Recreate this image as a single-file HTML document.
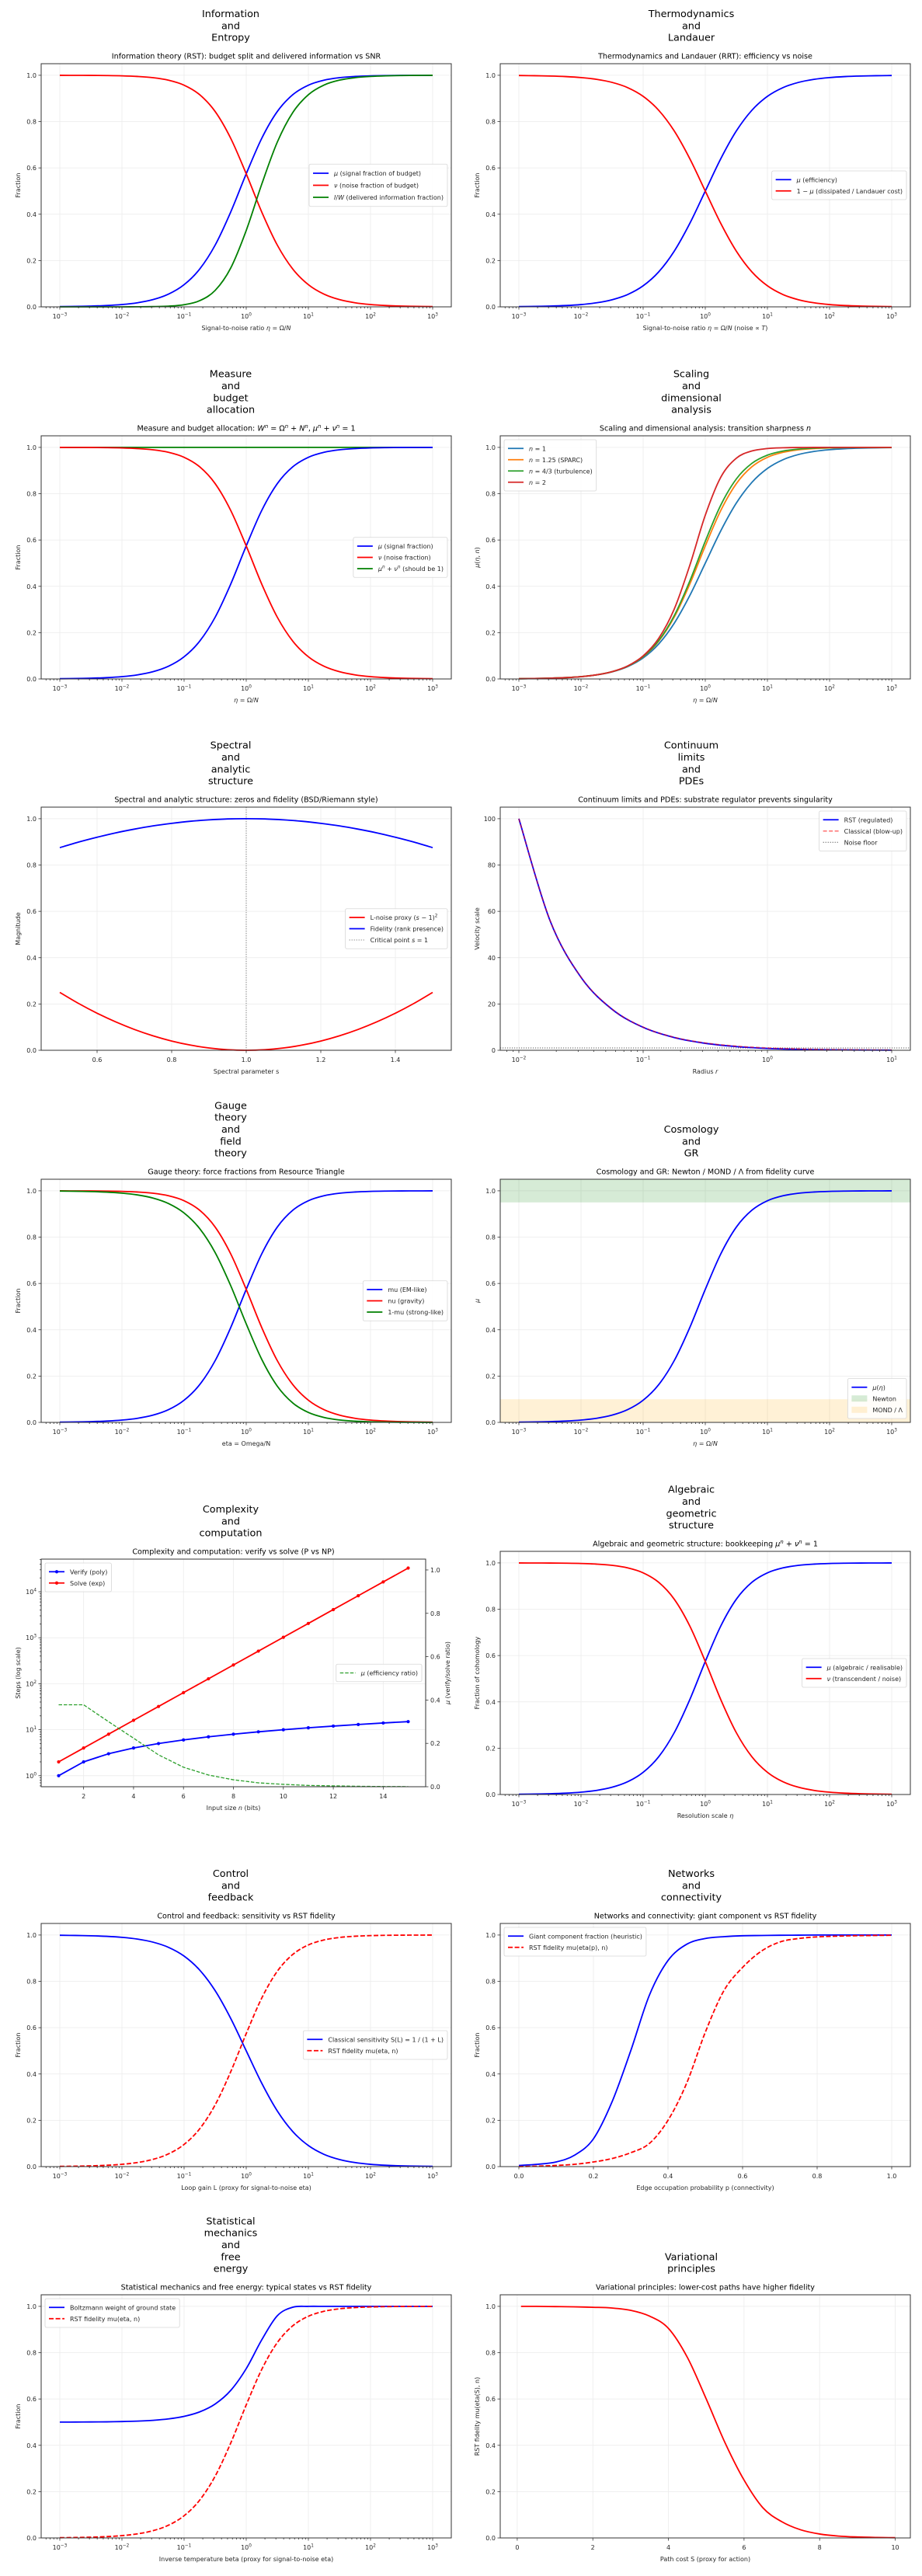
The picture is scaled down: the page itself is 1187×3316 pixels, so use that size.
<!DOCTYPE html>
<html><head><meta charset="utf-8">
<style>
html,body{margin:0;padding:0;background:#fff;}
svg{display:block;font-family:"DejaVu Sans","Liberation Sans",sans-serif;}
</style></head>
<body>
<svg id="fig" xmlns="http://www.w3.org/2000/svg" width="1187" height="3316" viewBox="0 0 1187 3316">
<rect x="0" y="0" width="1187" height="3316" fill="#fff"/>
</svg>
<script>
// ---------- data ----------
const etaExp = [-3,-2.75,-2.5,-2.25,-2,-1.75,-1.5,-1.25,-1,-0.75,-0.5,-0.25,0,0.25,0.5,0.75,1,1.25,1.5,1.75,2,2.25,2.5,2.75,3];
const muN1 = [0.0010,0.0018,0.0032,0.0056,0.0099,0.0175,0.0307,0.0532,0.0909,0.1510,0.2403,0.3599,0.5000,0.6401,0.7597,0.8490,0.9091,0.9468,0.9693,0.9825,0.9901,0.9944,0.9968,0.9982,0.9990];
const oneMinusMuN1 = [0.9990,0.9982,0.9968,0.9944,0.9901,0.9825,0.9693,0.9468,0.9091,0.8490,0.7597,0.6401,0.5000,0.3599,0.2403,0.1510,0.0909,0.0532,0.0307,0.0175,0.0099,0.0056,0.0032,0.0018,0.0010];
const muN125 = [0.0010,0.0018,0.0032,0.0056,0.0100,0.0177,0.0313,0.0550,0.0957,0.1629,0.2667,0.4094,0.5744,0.7280,0.8435,0.9163,0.9572,0.9786,0.9895,0.9948,0.9975,0.9988,0.9994,0.9997,0.9999];
const nuN125 = [0.9999,0.9997,0.9994,0.9988,0.9975,0.9948,0.9895,0.9786,0.9572,0.9163,0.8435,0.7280,0.5744,0.4094,0.2667,0.1629,0.0957,0.0550,0.0313,0.0177,0.0100,0.0056,0.0032,0.0018,0.0010];
const oneMinusMuN125 = [0.9990,0.9982,0.9968,0.9944,0.9900,0.9823,0.9687,0.9450,0.9043,0.8371,0.7333,0.5906,0.4256,0.2720,0.1565,0.0837,0.0428,0.0214,0.0105,0.0052,0.0025,0.0012,0.0006,0.0003,0.0001];
const muN43 = [0.0010,0.0018,0.0032,0.0056,0.0100,0.0177,0.0314,0.0553,0.0967,0.1656,0.2732,0.4225,0.5946,0.7513,0.8639,0.9310,0.9665,0.9842,0.9926,0.9965,0.9984,0.9993,0.9997,0.9998,0.9999];
const muN2 = [0.0010,0.0018,0.0032,0.0056,0.0100,0.0178,0.0316,0.0561,0.0995,0.1751,0.3015,0.4902,0.7071,0.8716,0.9535,0.9846,0.9950,0.9984,0.9995,0.9998,1,1,1,1,1];
const infoIW = [0,0,0,0,0.0001,0.0003,0.0010,0.0030,0.0092,0.0265,0.0711,0.1676,0.3299,0.5300,0.7114,0.8396,0.9162,0.9577,0.9790,0.9896,0.9950,0.9976,0.9988,0.9994,0.9998];
const budgetSum = [1,1,1,1,1,1,1,1,1,1,1,1,1,1,1,1,1,1,1,1,1,1,1,1,1];
const boltzmann = [0.5003,0.5004,0.5008,0.5014,0.5025,0.5044,0.5079,0.5141,0.5250,0.5443,0.5784,0.6370,0.7311,0.8555,0.9595,0.9964,1,1,1,1,1,1,1,1,1];
const spectralS = [0.5,0.55,0.6,0.65,0.7,0.75,0.8,0.85,0.9,0.95,1.0,1.05,1.1,1.15,1.2,1.25,1.3,1.35,1.4,1.45,1.5];
const lNoise = [0.25,0.2025,0.16,0.1225,0.09,0.0625,0.04,0.0225,0.01,0.0025,0,0.0025,0.01,0.0225,0.04,0.0625,0.09,0.1225,0.16,0.2025,0.25];
const fidelity = [0.875,0.899,0.92,0.939,0.955,0.969,0.98,0.989,0.995,0.999,1,0.999,0.995,0.989,0.98,0.969,0.955,0.939,0.92,0.899,0.875];
const radiusExp = [-2,-1.75,-1.5,-1.25,-1,-0.75,-0.5,-0.25,0,0.25,0.5,0.75,1];
const velocityRST = [100,56.1,31.5,17.7,9.9,5.5,3.0,1.6,0.8,0.4,0.2,0.1,0.05];
const velocityClassical = [100,56.2,31.6,17.8,10,5.62,3.16,1.78,1.0,0.56,0.32,0.18,0.10];
const noiseFloor = [1,1];
const noiseFloorX = [-2.15,1.15];
const bitsN = [1,2,3,4,5,6,7,8,9,10,11,12,13,14,15];
const verifySteps = [1,2,3,4,5,6,7,8,9,10,11,12,13,14,15];
const solveSteps = [2,4,8,16,32,64,128,256,512,1024,2048,4096,8192,16384,32768];
const efficiencyRatio = [0.378,0.378,0.30,0.224,0.147,0.09,0.054,0.032,0.018,0.011,0.006,0.004,0.002,0.001,0.0005];
const edgeP = [0,0.05,0.1,0.15,0.2,0.25,0.3,0.35,0.4,0.45,0.5,0.55,0.6,0.65,0.7,0.75,0.8,0.85,0.9,0.95,1.0];
const giantFraction = [0.005,0.01,0.02,0.05,0.12,0.28,0.5,0.74,0.89,0.96,0.985,0.993,0.997,0.998,0.999,0.9995,1,1,1,1,1];
const rstNetwork = [0.0,0.002,0.005,0.01,0.02,0.035,0.06,0.1,0.2,0.36,0.58,0.76,0.86,0.93,0.97,0.985,0.992,0.995,0.997,0.998,0.999];
const pathCost = [0.1,0.5,1,1.5,2,2.5,3,3.5,4,4.5,5,5.5,6,6.5,7,7.5,8,8.5,9,9.5,10];
const pathFidelity = [1.0,1.0,0.999,0.998,0.996,0.993,0.983,0.958,0.905,0.78,0.60,0.41,0.25,0.13,0.07,0.035,0.017,0.008,0.004,0.002,0.001];
const unitTicks = [0,0.2,0.4,0.6,0.8,1.0];
const unitTickLabels = ['0.0','0.2','0.4','0.6','0.8','1.0'];
const decadeTicks = [-3,-2,-1,0,1,2,3];
const decadeLabels = ['10^{\u22123}','10^{\u22122}','10^{\u22121}','10^{0}','10^{1}','10^{2}','10^{3}'];

// ---------- helpers ----------
const NS='http://www.w3.org/2000/svg';
const svg=document.getElementById('fig');
function mk(tag,parent){const e=document.createElementNS(NS,tag);parent.appendChild(e);return e;}
function rich(t,str){
  const toks=str.split(/(\*[^*]+\*|\^\{[^}]*\})/);
  let up=false;
  toks.forEach(tk=>{
    if(!tk) return;
    const ts=document.createElementNS(NS,'tspan');
    if(tk.startsWith('^{')){
      let c=tk.slice(2,-1);
      if(c.includes('*')){c=c.replace(/\*/g,'');ts.setAttribute('font-style','italic');}
      ts.textContent=c;ts.setAttribute('dy','-3.5');ts.setAttribute('font-size','0.72em');up=true;
    } else {
      if(tk.length>2&&tk[0]==='*'&&tk[tk.length-1]==='*'){tk=tk.slice(1,-1);ts.setAttribute('font-style','italic');}
      ts.textContent=tk;
      if(up){ts.setAttribute('dy','3.5');up=false;}
    }
    t.appendChild(ts);
  });
}
function text(parent,x,y,str,opt){
  const t=mk('text',parent);
  t.setAttribute('x',x);t.setAttribute('y',y);
  t.setAttribute('font-size',opt.fs||8);
  t.setAttribute('fill',opt.fill||'#262626');
  t.setAttribute('text-anchor',opt.anchor||'middle');
  if(opt.rot) t.setAttribute('transform',`rotate(${opt.rot} ${x} ${y})`);
  rich(t,str);
  return t;
}
function smooth(pts){
  let d=`M${pts[0][0].toFixed(2)},${pts[0][1].toFixed(2)}`;
  for(let i=0;i<pts.length-1;i++){
    const p0=pts[i-1]||pts[i],p1=pts[i],p2=pts[i+1],p3=pts[i+2]||pts[i+1];
    const c1=[p1[0]+(p2[0]-p0[0])/6,p1[1]+(p2[1]-p0[1])/6];
    const c2=[p2[0]-(p3[0]-p1[0])/6,p2[1]-(p3[1]-p1[1])/6];
    d+=`C${c1[0].toFixed(2)},${c1[1].toFixed(2)} ${c2[0].toFixed(2)},${c2[1].toFixed(2)} ${p2[0].toFixed(2)},${p2[1].toFixed(2)}`;
  }
  return d;
}
function straight(pts){return 'M'+pts.map(p=>p[0].toFixed(2)+','+p[1].toFixed(2)).join('L');}

const ROWS=[82,561,1039,1518,1997,2476,2954];
const LX=53, RX=644, AW=528, AH=313;

function panel(o){
  const g=mk('g',svg);
  
  
  const x0=o.x0,y0=o.y0,w=o.w||AW,h=o.h||AH;
  const sx=v=>x0+(v-o.xlim[0])/(o.xlim[1]-o.xlim[0])*w;
  const tyv=v=>o.ylog?Math.log10(v):v;
  const sy=v=>y0+h-(tyv(v)-o.ylim[0])/(o.ylim[1]-o.ylim[0])*h;
  const sy2=o.y2lim?(v=>y0+h-(v-o.y2lim[0])/(o.y2lim[1]-o.y2lim[0])*h):null;
  const gl=o.group;
  gl.forEach((ln,i)=>{
    const t=text(g,o.gcx,y0-34-(gl.length-1-i)*15.3+4.6,ln,{fs:12.8,fill:'#000'});
    
    
  });
  const tt=text(g,x0+w/2,y0-6.5,o.title,{fs:9.6,fill:'#000'});
  
  
  const grid=mk('g',g);
  
  
  o.xticks.forEach(v=>{const l=mk('line',grid);l.setAttribute('x1',sx(v));l.setAttribute('x2',sx(v));l.setAttribute('y1',y0);l.setAttribute('y2',y0+h);l.setAttribute('stroke','#ebebeb');l.setAttribute('stroke-width','0.8');});
  o.yticks.forEach(v=>{const yy=y0+h-(v-o.ylim[0])/(o.ylim[1]-o.ylim[0])*h;const l=mk('line',grid);l.setAttribute('x1',x0);l.setAttribute('x2',x0+w);l.setAttribute('y1',yy);l.setAttribute('y2',yy);l.setAttribute('stroke','#ebebeb');l.setAttribute('stroke-width','0.8');});
  (o.bands||[]).forEach(b=>{
    const r=mk('rect',g);
    
    
    r.setAttribute('x',x0);r.setAttribute('width',w);
    r.setAttribute('y',sy(b.y1));r.setAttribute('height',sy(b.y0)-sy(b.y1));
    r.setAttribute('fill',b.color);
  });
  o.series.forEach(s=>{
    const yf=s.axis==='right'?sy2:sy;
    let pts;
    if(s.vline!==undefined) pts=[[sx(s.vline),y0],[sx(s.vline),y0+h]];
    else pts=s.x.map((xv,i)=>[sx(xv),yf(s.y[i])]);
    const p=mk('path',g);
    
    
    p.setAttribute('d',s.straight?straight(pts):smooth(pts));
    p.setAttribute('fill','none');p.setAttribute('stroke',s.color);
    p.setAttribute('stroke-width',s.lw||1.8);
    p.setAttribute('stroke-linejoin','round');
    if(s.dash) p.setAttribute('stroke-dasharray',s.dash);
    if(s.opacity) p.setAttribute('stroke-opacity',s.opacity);
    if(s.marker){pts.forEach(pt=>{const c=mk('circle',g);c.setAttribute('cx',pt[0]);c.setAttribute('cy',pt[1]);c.setAttribute('r',2.1);c.setAttribute('fill',s.color);});}
  });
  const sp=mk('rect',g);
  
  
  sp.setAttribute('x',x0);sp.setAttribute('y',y0);sp.setAttribute('width',w);sp.setAttribute('height',h);
  sp.setAttribute('fill','none');sp.setAttribute('stroke','#333');sp.setAttribute('stroke-width','1');
  const tk=mk('g',g);
  
  
  const tl=(x1,y1,x2,y2)=>{const l=mk('line',tk);l.setAttribute('x1',x1);l.setAttribute('y1',y1);l.setAttribute('x2',x2);l.setAttribute('y2',y2);l.setAttribute('stroke','#333');l.setAttribute('stroke-width','0.8');};
  o.xticks.forEach((v,i)=>{const X=sx(v);tl(X,y0+h,X,y0+h+3.5);
    const t=text(tk,X,y0+h+15,o.xlabels[i],{fs:8});});
  if(o.xlog){for(let d=Math.floor(o.xlim[0]);d<o.xlim[1];d++){for(let k=2;k<10;k++){const v=d+Math.log10(k);if(v>o.xlim[0]&&v<o.xlim[1]){const X=sx(v);tl(X,y0+h,X,y0+h+2);}}}}
  o.yticks.forEach((v,i)=>{const Y=y0+h-(v-o.ylim[0])/(o.ylim[1]-o.ylim[0])*h;tl(x0-3.5,Y,x0,Y);
    const t=text(tk,x0-6,Y+3,o.ylabels[i],{fs:8,anchor:'end'});});
  if(o.ylog){for(let d=Math.floor(o.ylim[0]);d<o.ylim[1];d++){for(let k=2;k<10;k++){const v=d+Math.log10(k);if(v>o.ylim[0]&&v<o.ylim[1]){const Y=y0+h-(v-o.ylim[0])/(o.ylim[1]-o.ylim[0])*h;tl(x0-2,Y,x0,Y);}}}}
  if(o.y2ticks){o.y2ticks.forEach((v,i)=>{const Y=sy2(v);tl(x0+w,Y,x0+w+3.5,Y);
    const t=text(tk,x0+w+6,Y+3,o.y2labels[i],{fs:8,anchor:'start'});});}
  const xl=text(g,x0+w/2,y0+h+30,o.xlabel,{fs:8});
  
  
  const yl=text(g,x0-27,y0+h/2,o.ylabel,{fs:8,rot:-90});
  
  
  if(o.y2label){const y2=text(g,x0+w+31,y0+h/2,o.y2label,{fs:8,rot:-90});
    
    }
  (o.legends||[]).forEach(lg=>{
    const G=mk('g',g);
    
    
    const rowH=lg.rowH||14.5;
    const box=mk('rect',G);
    let maxW=0;
    lg.items.forEach((it,i)=>{
      const cy=4+rowH/2+i*rowH;
      const ent=mk('g',G);
      
      
      if(it.patch){const r=mk('rect',ent);r.setAttribute('x',5);r.setAttribute('y',cy-4);r.setAttribute('width',20);r.setAttribute('height',8);r.setAttribute('fill',it.color);r.setAttribute('stroke',it.edge||'none');r.setAttribute('stroke-width','0.5');}
      else{const l=mk('line',ent);l.setAttribute('x1',5);l.setAttribute('x2',25);l.setAttribute('y1',cy);l.setAttribute('y2',cy);l.setAttribute('stroke',it.color);l.setAttribute('stroke-width',it.lw||1.8);if(it.dash)l.setAttribute('stroke-dasharray',it.dash);if(it.opacity)l.setAttribute('stroke-opacity',it.opacity);
        if(it.marker){const c=mk('circle',ent);c.setAttribute('cx',15);c.setAttribute('cy',cy);c.setAttribute('r',2.1);c.setAttribute('fill',it.color);}}
      const t=text(ent,32,cy+3,it.label,{fs:8,anchor:'start'});
      maxW=Math.max(maxW,t.getComputedTextLength());
    });
    const bw=32+maxW+5, bh=lg.items.length*rowH+8;
    box.setAttribute('x',0);box.setAttribute('y',0);box.setAttribute('width',bw);box.setAttribute('height',bh);
    box.setAttribute('rx',2);box.setAttribute('fill','#fff');box.setAttribute('fill-opacity','0.85');box.setAttribute('stroke','#d6d6d6');box.setAttribute('stroke-width','0.8');
    let lx,ly;
    if(lg.loc==='center right'){lx=x0+w-5-bw;ly=y0+h/2-bh/2;}
    else if(lg.loc==='upper left'){lx=x0+5;ly=y0+5;}
    else if(lg.loc==='upper right'){lx=x0+w-5-bw;ly=y0+5;}
    else {lx=x0+w-5-bw;ly=y0+h-5-bh;}
    G.setAttribute('transform',`translate(${lx},${ly})`);
  });
}

const B='#0000ff',R='#ff0000',Gr='#008000';
const etaBase={xlog:true,xlim:[-3.3,3.3],ylim:[0,1.05],xticks:decadeTicks,xlabels:decadeLabels,yticks:unitTicks,ylabels:unitTickLabels};
const LCX=297, RCX=890;

panel(Object.assign({},etaBase,{name:'panel-information',x0:LX,y0:ROWS[0],gcx:LCX,group:['Information','and','Entropy'],
  title:'Information theory (RST): budget split and delivered information vs SNR',xlabel:'Signal-to-noise ratio *η* = Ω/*N*',ylabel:'Fraction',
  series:[{name:'mu-signal-line',x:etaExp,y:muN125,color:B},{name:'nu-noise-line',x:etaExp,y:nuN125,color:R},{name:'iw-delivered-line',x:etaExp,y:infoIW,color:Gr}],
  legends:[{loc:'center right',rowH:15.5,items:[{label:'*μ* (signal fraction of budget)',color:B},{label:'*ν* (noise fraction of budget)',color:R},{label:'*I*/*W* (delivered information fraction)',color:Gr}]}]}));

panel(Object.assign({},etaBase,{name:'panel-thermodynamics',x0:RX,y0:ROWS[0],gcx:RCX,group:['Thermodynamics','and','Landauer'],
  title:'Thermodynamics and Landauer (RRT): efficiency vs noise',xlabel:'Signal-to-noise ratio *η* = Ω/*N* (noise ∝ *T*)',ylabel:'Fraction',
  series:[{name:'efficiency-line',x:etaExp,y:muN1,color:B},{name:'dissipated-line',x:etaExp,y:oneMinusMuN1,color:R}],
  legends:[{loc:'center right',items:[{label:'*μ* (efficiency)',color:B},{label:'1 − *μ* (dissipated / Landauer cost)',color:R}]}]}));

panel(Object.assign({},etaBase,{name:'panel-measure',x0:LX,y0:ROWS[1],gcx:LCX,group:['Measure','and','budget','allocation'],
  title:'Measure and budget allocation: *W*^{*n*} = Ω^{*n*} + *N*^{*n*}, *μ*^{*n*} + *ν*^{*n*} = 1',xlabel:'*η* = Ω/*N*',ylabel:'Fraction',
  series:[{name:'budget-sum-line',x:etaExp,y:budgetSum,color:Gr},{name:'mu-signal-line',x:etaExp,y:muN125,color:B},{name:'nu-noise-line',x:etaExp,y:nuN125,color:R}],
  legends:[{loc:'center right',items:[{label:'*μ* (signal fraction)',color:B},{label:'*ν* (noise fraction)',color:R},{label:'*μ*^{*n*} + *ν*^{*n*} (should be 1)',color:Gr}]}]}));

panel(Object.assign({},etaBase,{name:'panel-scaling',x0:RX,y0:ROWS[1],gcx:RCX,group:['Scaling','and','dimensional','analysis'],
  title:'Scaling and dimensional analysis: transition sharpness *n*',xlabel:'*η* = Ω/*N*',ylabel:'*μ*(*η*, *n*)',
  series:[{name:'n1-line',x:etaExp,y:muN1,color:'#1f77b4'},{name:'n125-line',x:etaExp,y:muN125,color:'#ff7f0e'},{name:'n43-line',x:etaExp,y:muN43,color:'#2ca02c'},{name:'n2-line',x:etaExp,y:muN2,color:'#d62728'}],
  legends:[{loc:'upper left',items:[{label:'*n* = 1',color:'#1f77b4'},{label:'*n* = 1.25 (SPARC)',color:'#ff7f0e'},{label:'*n* = 4/3 (turbulence)',color:'#2ca02c'},{label:'*n* = 2',color:'#d62728'}]}]}));

panel({name:'panel-spectral',x0:LX,y0:ROWS[2],gcx:LCX,group:['Spectral','and','analytic','structure'],
  xlim:[0.45,1.55],ylim:[0,1.05],xticks:[0.6,0.8,1.0,1.2,1.4],xlabels:['0.6','0.8','1.0','1.2','1.4'],yticks:unitTicks,ylabels:unitTickLabels,
  title:'Spectral and analytic structure: zeros and fidelity (BSD/Riemann style)',xlabel:'Spectral parameter s',ylabel:'Magnitude',
  series:[{name:'critical-point-line',vline:1.0,color:'#808080',lw:1,dash:'1.2,1.8',straight:true},{name:'l-noise-line',x:spectralS,y:lNoise,color:R},{name:'fidelity-line',x:spectralS,y:fidelity,color:B}],
  legends:[{loc:'center right',items:[{label:'L-noise proxy (*s* − 1)^{2}',color:R},{label:'Fidelity (rank presence)',color:B},{label:'Critical point *s* = 1',color:'#808080',lw:1,dash:'1.2,1.8'}]}]});

panel({name:'panel-continuum',x0:RX,y0:ROWS[2],gcx:RCX,group:['Continuum','limits','and','PDEs'],
  xlog:true,xlim:[-2.15,1.15],ylim:[0,105],xticks:[-2,-1,0,1],xlabels:['10^{\u22122}','10^{\u22121}','10^{0}','10^{1}'],yticks:[0,20,40,60,80,100],ylabels:['0','20','40','60','80','100'],
  title:'Continuum limits and PDEs: substrate regulator prevents singularity',xlabel:'Radius *r*',ylabel:'Velocity scale',
  series:[{name:'noise-floor-line',x:noiseFloorX,y:noiseFloor,color:'#555',lw:1,dash:'1.2,1.8',straight:true},{name:'rst-regulated-line',x:radiusExp,y:velocityRST,color:B},{name:'classical-blowup-line',x:radiusExp,y:velocityClassical,color:R,dash:'5,2.5',opacity:0.5}],
  legends:[{loc:'upper right',items:[{label:'RST (regulated)',color:B},{label:'Classical (blow-up)',color:R,dash:'5,2.5',opacity:0.5},{label:'Noise floor',color:'#555',lw:1,dash:'1.2,1.8'}]}]});

panel(Object.assign({},etaBase,{name:'panel-gauge',x0:LX,y0:ROWS[3],gcx:LCX,group:['Gauge','theory','and','field','theory'],
  title:'Gauge theory: force fractions from Resource Triangle',xlabel:'eta = Omega/N',ylabel:'Fraction',
  series:[{name:'mu-em-line',x:etaExp,y:muN125,color:B},{name:'nu-gravity-line',x:etaExp,y:nuN125,color:R},{name:'strong-line',x:etaExp,y:oneMinusMuN125,color:Gr}],
  legends:[{loc:'center right',items:[{label:'mu (EM-like)',color:B},{label:'nu (gravity)',color:R},{label:'1-mu (strong-like)',color:Gr}]}]}));

panel(Object.assign({},etaBase,{name:'panel-cosmology',x0:RX,y0:ROWS[3],gcx:RCX,group:['Cosmology','and','GR'],
  title:'Cosmology and GR: Newton / MOND / Λ from fidelity curve',xlabel:'*η* = Ω/*N*',ylabel:'*μ*',
  bands:[{name:'newton-band',y0:0.95,y1:1.05,color:'rgba(0,128,0,0.16)'},{name:'mond-band',y0:0,y1:0.1,color:'rgba(255,165,0,0.16)'}],
  series:[{name:'mu-eta-line',x:etaExp,y:muN125,color:B}],
  legends:[{loc:'lower right',items:[{label:'*μ*(*η*)',color:B},{label:'Newton',color:'rgba(0,128,0,0.16)',patch:true},{label:'MOND / Λ',color:'rgba(255,165,0,0.16)',patch:true}]}]}));

panel({name:'panel-complexity',x0:LX,y0:2007,w:495,h:293,gcx:LCX,group:['Complexity','and','computation'],
  xlim:[0.3,15.7],ylim:[-0.24,4.71],ylog:true,y2lim:[0,1.05],
  xticks:[2,4,6,8,10,12,14],xlabels:['2','4','6','8','10','12','14'],yticks:[0,1,2,3,4],ylabels:['10^{0}','10^{1}','10^{2}','10^{3}','10^{4}'],
  y2ticks:[0,0.2,0.4,0.6,0.8,1.0],y2labels:['0.0','0.2','0.4','0.6','0.8','1.0'],
  title:'Complexity and computation: verify vs solve (P vs NP)',xlabel:'Input size *n* (bits)',ylabel:'Steps (log scale)',y2label:'*μ* (verify/solve ratio)',
  series:[{name:'verify-line',x:bitsN,y:verifySteps,color:B,straight:true,marker:true},{name:'solve-line',x:bitsN,y:solveSteps,color:R,straight:true,marker:true},{name:'efficiency-ratio-line',x:bitsN,y:efficiencyRatio,color:'#2ca02c',axis:'right',lw:1.3,dash:'4.5,2',straight:true}],
  legends:[{loc:'upper left',items:[{label:'Verify (poly)',color:B,marker:true},{label:'Solve (exp)',color:R,marker:true}]},{loc:'center right',items:[{label:'*μ* (efficiency ratio)',color:'#2ca02c',lw:1.3,dash:'4.5,2'}]}]});

panel(Object.assign({},etaBase,{name:'panel-algebraic',x0:RX,y0:ROWS[4],gcx:RCX,group:['Algebraic','and','geometric','structure'],
  title:'Algebraic and geometric structure: bookkeeping *μ*^{*n*} + *ν*^{*n*} = 1',xlabel:'Resolution scale *η*',ylabel:'Fraction of cohomology',
  series:[{name:'mu-algebraic-line',x:etaExp,y:muN125,color:B},{name:'nu-transcendent-line',x:etaExp,y:nuN125,color:R}],
  legends:[{loc:'center right',items:[{label:'*μ* (algebraic / realisable)',color:B},{label:'*ν* (transcendent / noise)',color:R}]}]}));

panel(Object.assign({},etaBase,{name:'panel-control',x0:LX,y0:ROWS[5],gcx:LCX,group:['Control','and','feedback'],
  title:'Control and feedback: sensitivity vs RST fidelity',xlabel:'Loop gain L (proxy for signal-to-noise eta)',ylabel:'Fraction',
  series:[{name:'sensitivity-line',x:etaExp,y:oneMinusMuN1,color:B},{name:'rst-fidelity-line',x:etaExp,y:muN125,color:R,dash:'6,2.6'}],
  legends:[{loc:'center right',items:[{label:'Classical sensitivity S(L) = 1 / (1 + L)',color:B},{label:'RST fidelity mu(eta, n)',color:R,dash:'6,2.6'}]}]}));

panel({name:'panel-networks',x0:RX,y0:ROWS[5],gcx:RCX,group:['Networks','and','connectivity'],
  xlim:[-0.05,1.05],ylim:[0,1.05],xticks:[0,0.2,0.4,0.6,0.8,1.0],xlabels:['0.0','0.2','0.4','0.6','0.8','1.0'],yticks:unitTicks,ylabels:unitTickLabels,
  title:'Networks and connectivity: giant component vs RST fidelity',xlabel:'Edge occupation probability p (connectivity)',ylabel:'Fraction',
  series:[{name:'giant-component-line',x:edgeP,y:giantFraction,color:B},{name:'rst-fidelity-line',x:edgeP,y:rstNetwork,color:R,dash:'6,2.6'}],
  legends:[{loc:'upper left',items:[{label:'Giant component fraction (heuristic)',color:B},{label:'RST fidelity mu(eta(p), n)',color:R,dash:'6,2.6'}]}]});

panel(Object.assign({},etaBase,{name:'panel-statistical',x0:LX,y0:ROWS[6],gcx:LCX,group:['Statistical','mechanics','and','free','energy'],
  title:'Statistical mechanics and free energy: typical states vs RST fidelity',xlabel:'Inverse temperature beta (proxy for signal-to-noise eta)',ylabel:'Fraction',
  series:[{name:'boltzmann-line',x:etaExp,y:boltzmann,color:B},{name:'rst-fidelity-line',x:etaExp,y:muN125,color:R,dash:'6,2.6'}],
  legends:[{loc:'upper left',items:[{label:'Boltzmann weight of ground state',color:B},{label:'RST fidelity mu(eta, n)',color:R,dash:'6,2.6'}]}]}));

panel({name:'panel-variational',x0:RX,y0:ROWS[6],gcx:RCX,group:['Variational','principles'],
  xlim:[-0.45,10.4],ylim:[0,1.05],xticks:[0,2,4,6,8,10],xlabels:['0','2','4','6','8','10'],yticks:unitTicks,ylabels:unitTickLabels,
  title:'Variational principles: lower-cost paths have higher fidelity',xlabel:'Path cost S (proxy for action)',ylabel:'RST fidelity mu(eta(S), n)',
  series:[{name:'path-fidelity-line',x:pathCost,y:pathFidelity,color:R}]});
</script>
</body></html>
